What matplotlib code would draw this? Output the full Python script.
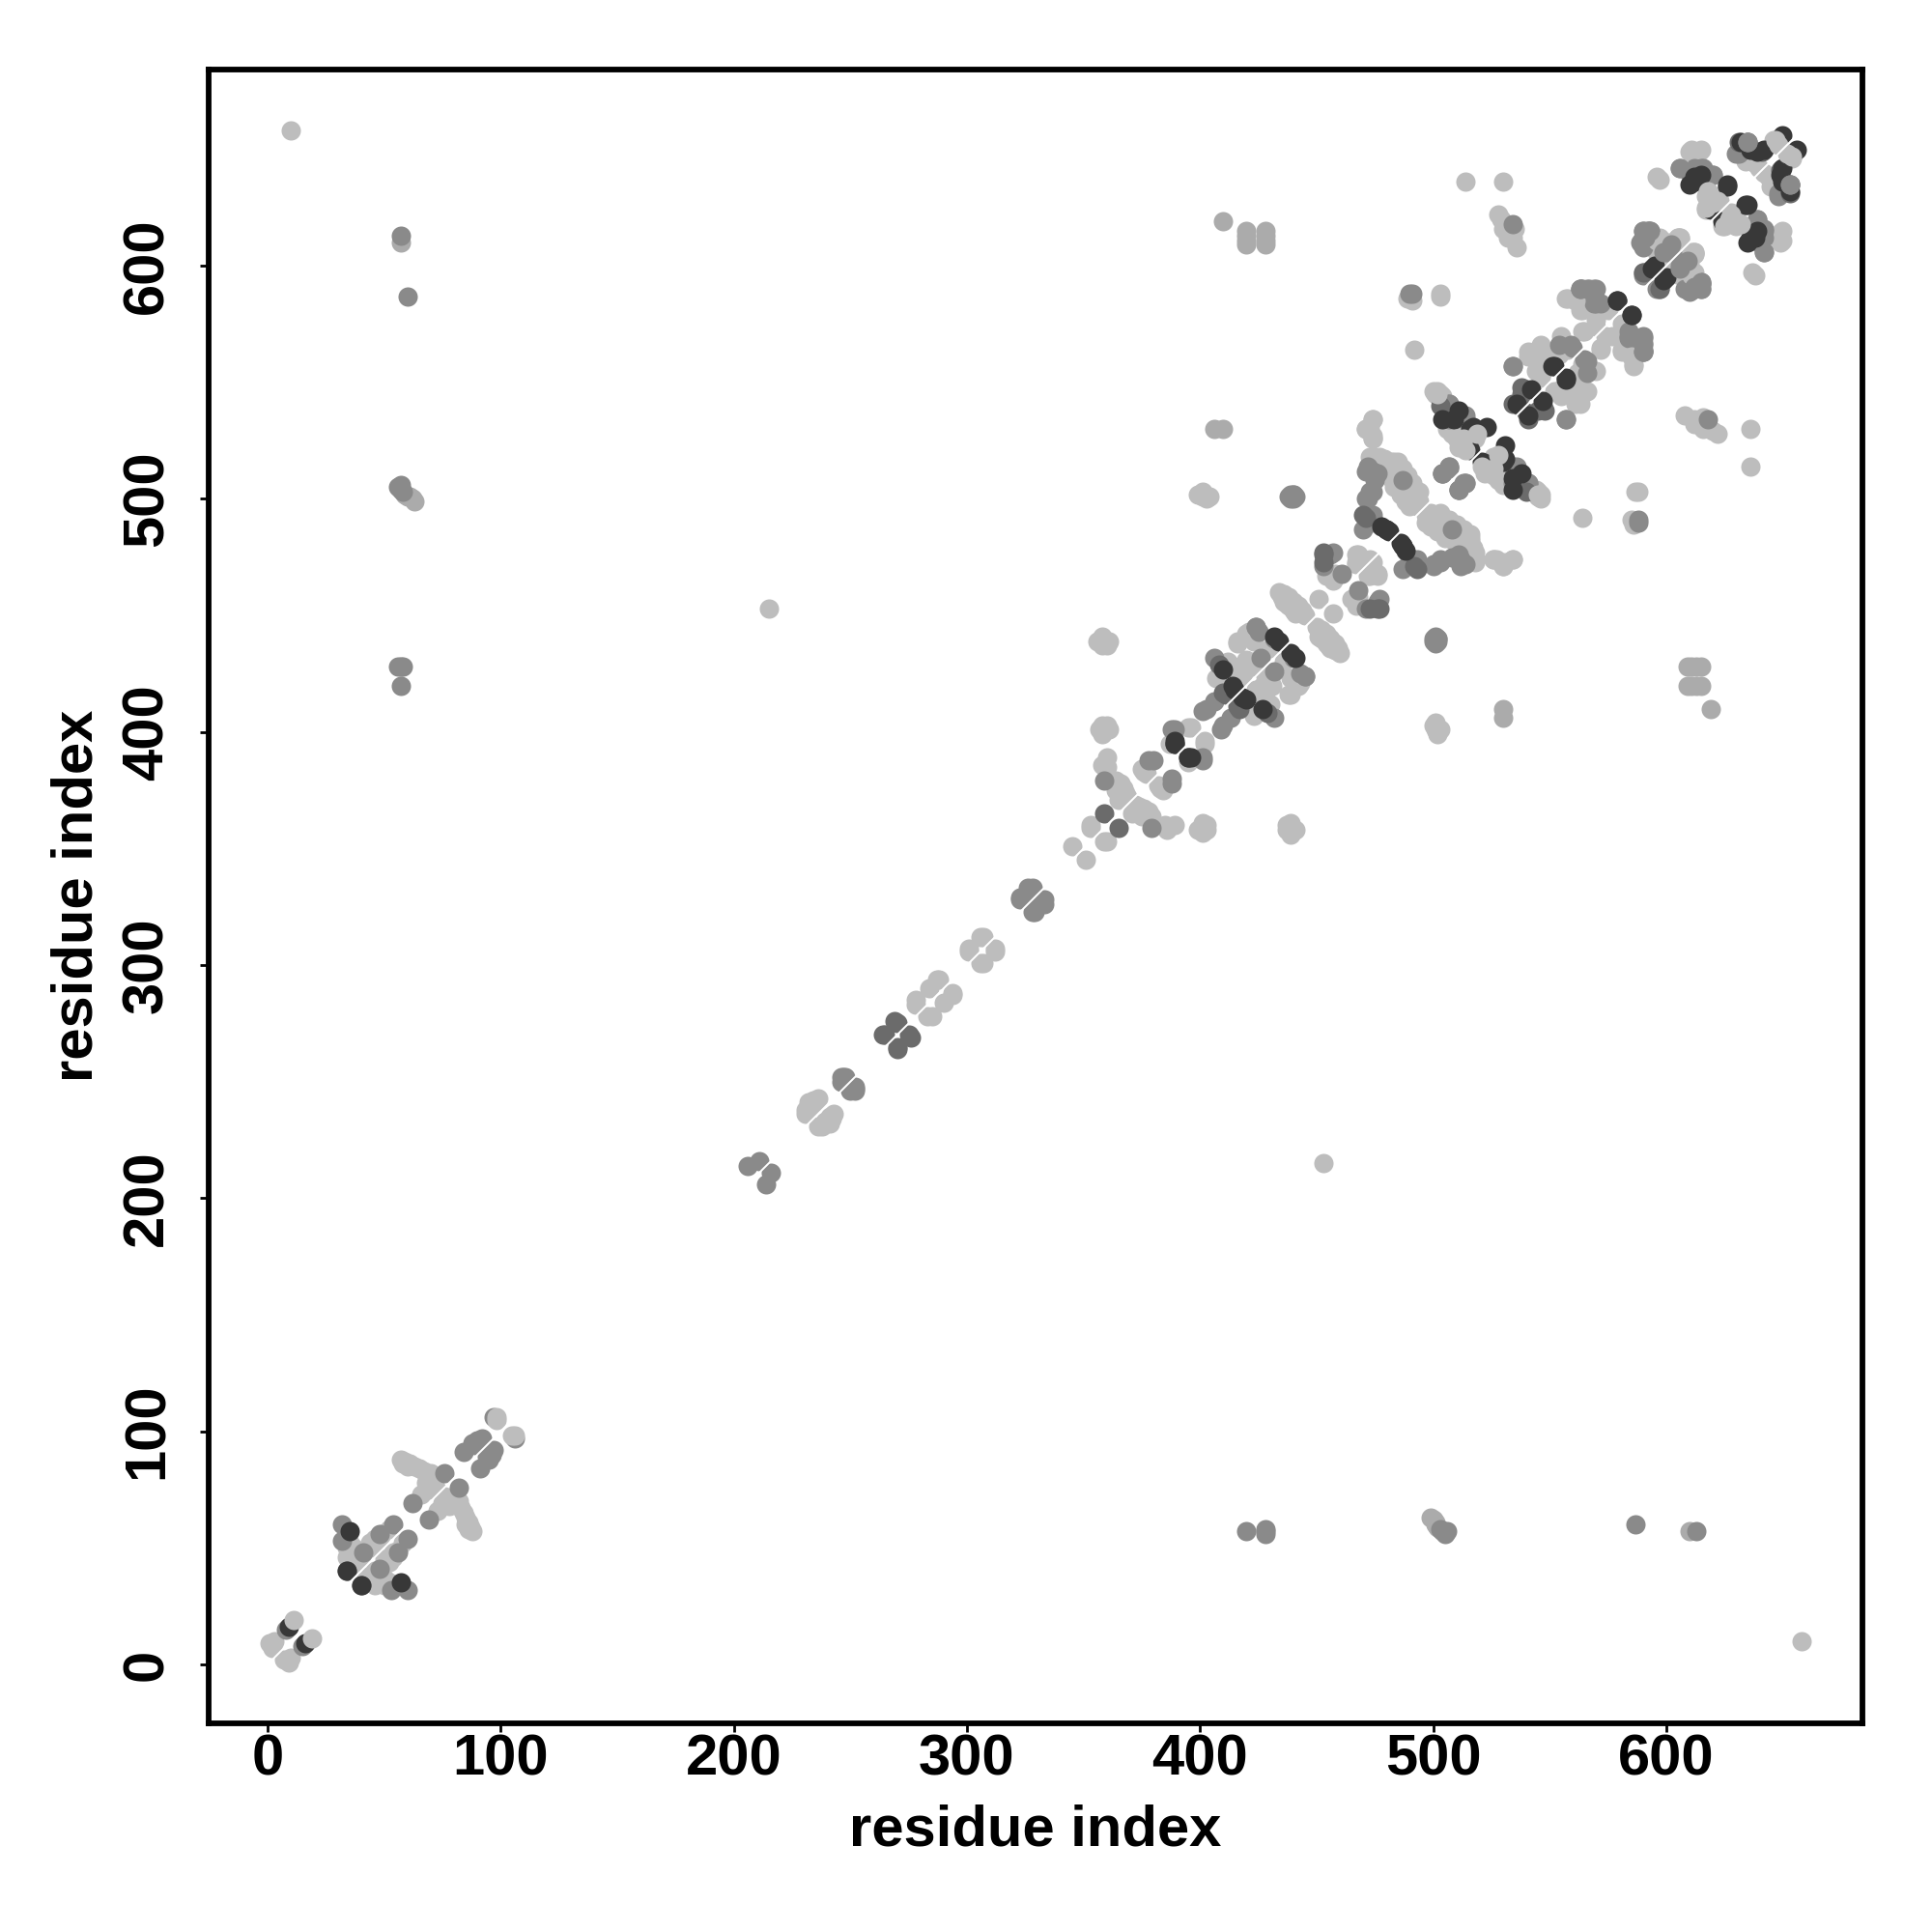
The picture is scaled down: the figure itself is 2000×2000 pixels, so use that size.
# -*- coding: utf-8 -*-
"""Residue contact map, grey level = contact strength."""

import matplotlib
matplotlib.use("Agg")
import matplotlib.pyplot as plt
import numpy as np

TICKS = [0, 100, 200, 300, 400, 500, 600]
FIRST_RESIDUE = 1
LAST_RESIDUE = 659

# contacts are (i, j) with i < j, the map is symmetric
light = [
    (1, 9), (2, 7), (3, 10), (36, 42), (38, 44), (34, 46), (34, 50), (35, 52), (36, 48), (37, 45),
    (39, 47), (35, 47), (40, 46), (44, 52), (46, 54), (49, 56), (52, 58), (37, 50), (45, 50),
    (46, 52), (48, 54), (57, 88), (59, 87), (61, 86), (63, 85), (65, 84), (67, 83), (69, 81),
    (71, 80), (66, 73), (68, 78), (70, 82), (72, 80), (69, 75), (72, 76), (58, 86), (60, 85),
    (231, 238), (232, 241), (234, 242), (236, 243), (233, 239), (235, 241), (231, 236),
    (278, 283), (284, 290), (288, 294), (278, 285), (287, 294), (301, 307), (307, 312), (301, 306),
    (306, 312), (345, 351), (353, 359), (353, 360), (10, 658), (215, 453), (358, 386),
    (357, 401), (360, 401), (358, 403), (360, 403), (361, 401), (358, 399), (356, 439), (358, 439),
    (360, 439), (358, 441), (361, 439), (360, 437), (358, 437), (364, 379), (366, 378), (364, 375),
    (366, 373), (368, 374), (365, 371), (367, 376), (369, 372), (360, 385), (360, 389), (376, 383),
    (377, 382), (375, 384), (395, 402), (396, 402), (387, 395), (407, 423), (412, 430), (423, 430),
    (416, 426), (418, 428), (420, 427), (416, 439), (420, 442), (423, 439), (430, 436), (417, 428),
    (424, 428), (416, 438), (421, 443), (414, 428), (420, 431), (418, 424), (434, 460), (436, 459),
    (438, 458), (440, 456), (442, 454), (444, 452), (445, 450), (437, 455), (440, 452), (435, 458),
    (436, 456), (438, 454), (441, 451), (451, 457), (454, 467), (467, 476), (467, 472), (458, 468),
    (457, 465), (473, 467), (476, 468), (474, 534), (471, 530), (474, 527), (473, 531),
    (474, 518), (479, 517), (485, 514), (487, 508), (492, 500), (476, 516), (482, 516), (488, 504),
    (490, 502), (493, 497), (486, 508), (489, 510), (489, 505), (491, 507), (494, 503), (491, 499),
    (494, 499), (487, 513), (485, 516), (483, 516), (486, 513), (473, 518), (477, 518), (481, 514),
    (484, 510), (483, 505), (484, 507), (482, 509), (480, 512), (486, 502), (488, 499), (490, 497),
    (485, 505), (481, 510), (479, 513), (477, 514), (402, 501), (400, 502), (404, 501), (500, 403),
    (503, 401), (502, 399), (501, 401), (502, 546), (500, 546), (504, 544), (503, 587), (492, 564),
    (491, 585), (514, 636), (530, 636), (529, 620), (535, 616), (536, 608), (532, 612), (534, 612),
    (528, 622), (530, 616), (503, 588), (489, 586), (474, 526), (474, 473), (526, 474), (530, 471),
    (534, 474), (503, 545), (501, 545), (545, 563), (548, 562), (545, 558), (546, 566), (544, 560),
    (550, 560), (548, 556), (546, 552), (549, 557), (542, 561), (541, 563), (541, 561), (544, 555),
    (547, 555), (546, 563), (555, 570), (554, 562), (558, 586), (563, 581), (564, 572), (572, 565),
    (575, 581), (558, 564), (564, 585), (557, 586), (570, 577), (564, 581), (570, 574), (561, 585),
    (563, 583), (566, 587), (568, 584), (596, 638), (610, 649), (614, 649), (617, 634), (621, 630),
    (617, 624), (620, 630), (623, 628), (612, 606), (597, 612), (596, 606), (605, 612), (597, 610),
    (611, 638), (597, 637), (611, 650), (615, 650), (618, 626), (638, 644), (634, 645), (654, 647),
    (646, 654), (644, 638), (642, 640), (610, 595), (598, 610), (600, 606), (599, 604), (606, 612),
    (597, 611), (506, 530), (508, 528), (511, 522), (513, 528), (516, 526), (512, 530), (518, 526),
]
faint = [
    (57, 610), (420, 609), (428, 609), (406, 530), (410, 530), (410, 619), (420, 613), (428, 613),
    (59, 502), (60, 501), (61, 501), (62, 500), (63, 499), (428, 611), (428, 615), (420, 611),
    (420, 615),
]
mid = [
    (8, 15), (32, 60), (32, 53), (76, 82), (62, 69), (84, 91), (88, 95), (90, 96), (92, 97), (89, 94),
    (97, 106), (246, 250), (247, 252), (246, 252), (248, 252), (206, 214), (211, 216), (323, 329),
    (328, 333), (323, 328), (326, 333), (325, 330), (359, 379), (378, 388), (380, 388), (388, 401),
    (389, 401), (401, 409), (406, 413), (406, 432), (424, 445), (432, 440), (426, 432), (403, 410),
    (425, 443), (457, 477), (453, 471), (461, 468), (456, 476), (56, 505), (57, 506), (57, 504),
    (58, 503), (57, 428), (56, 428), (58, 428), (57, 420), (60, 587), (57, 613), (440, 500),
    (439, 502), (440, 502), (438, 501), (500, 439), (502, 440), (501, 441), (491, 588), (490, 588),
    (473, 503), (471, 500), (471, 512), (474, 512), (472, 514), (476, 511), (475, 508), (507, 514),
    (504, 511), (507, 513), (511, 504), (511, 475), (508, 487), (500, 472), (503, 474), (490, 475),
    (474, 493), (487, 470), (534, 557), (534, 618), (507, 541), (514, 536), (514, 534), (534, 514),
    (541, 507), (557, 534), (560, 565), (554, 566), (566, 559), (567, 590), (563, 590), (569, 584),
    (590, 615), (593, 615), (590, 611), (603, 609), (600, 606), (590, 597), (607, 602), (615, 592),
    (608, 590), (596, 590), (612, 590), (606, 642), (612, 642), (616, 642), (620, 639), (639, 620),
    (642, 615), (642, 606), (590, 570), (584, 572), (590, 564), (587, 568), (653, 635), (648, 631),
    (630, 648), (635, 653), (534, 507), (539, 506), (610, 640),
]
dim = [
    (34, 40), (264, 270), (265, 270), (270, 275), (269, 276), (359, 365), (410, 417), (411, 416),
    (408, 429), (453, 473), (453, 477), (453, 476), (470, 493), (492, 471), (631, 653), (641, 649),
    (503, 540), (536, 541), (590, 597), (540, 547), (538, 545), (534, 541), (537, 540), (538, 548),
]
dark = [
    (9, 16), (35, 57), (34, 40), (389, 396), (389, 395), (395, 389), (414, 420), (415, 418),
    (410, 427), (434, 439), (432, 441), (478, 488), (480, 487), (486, 481), (487, 480),
    (511, 538), (504, 534), (517, 531), (523, 531), (515, 523), (509, 534), (516, 521), (516, 530),
    (542, 547), (536, 541), (551, 557), (557, 552), (579, 585), (585, 579), (594, 599), (595, 600),
    (612, 636), (610, 635), (615, 639), (626, 634), (619, 625), (619, 624), (626, 635), (612, 638),
    (636, 650), (642, 650), (650, 656), (639, 649), (632, 653),
]
top_light = [
    (11, 19), (98, 106), (98, 105), (502, 545), (510, 526), (514, 521), (519, 528), (513, 526),
    (625, 617), (605, 612), (610, 601), (596, 611), (611, 606), (647, 654), (648, 652),
    (622, 628), (618, 632), (617, 630), (620, 627), (585, 561),
]
top_mid = [
    (41, 48), (48, 56), (54, 60), (424, 445), (507, 514), (504, 511), (635, 653), (653, 635),
    (599, 606), (602, 609), (590, 615), (593, 615), (589, 610), (566, 590), (563, 590), (584, 570),
    (590, 569), (590, 563), (612, 591), (615, 592), (612, 590),
]

GROUPS = [
    (light, 0.74),
    (faint, 0.67),
    (mid, 0.54),
    (dim, 0.42),
    (dark, 0.22),
    (top_light, 0.74),
    (top_mid, 0.54),
]

plt.rcParams["font.family"] = ["Liberation Sans", "DejaVu Sans"]
plt.rcParams["font.weight"] = "bold"

fig = plt.figure(figsize=(10, 10), dpi=200)
ax = fig.add_axes([216 / 2000, (2000 - 1784) / 2000, (1928 - 216) / 2000, (1784 - 72) / 2000])

for contacts, level in GROUPS:
    pairs = np.array(contacts, dtype=float)
    x = np.concatenate([pairs[:, 0], pairs[:, 1]])
    y = np.concatenate([pairs[:, 1], pairs[:, 0]])
    ax.scatter(x, y, s=52, color=str(level), linewidths=0, zorder=2)

ax.plot([FIRST_RESIDUE, LAST_RESIDUE], [FIRST_RESIDUE, LAST_RESIDUE], color="white", lw=0.7, zorder=3)

ax.set_xlim(-25.3, 684.2)
ax.set_ylim(-25.3, 684.2)
ax.set_xticks(TICKS)
ax.set_yticks(TICKS)
ax.tick_params(axis="both", length=3.2, width=1.0, labelsize=21.5)
ax.tick_params(axis="x", pad=0.5)
ax.tick_params(axis="y", pad=9.6, labelrotation=90)
for label in ax.get_yticklabels():
    label.set_va("center")
for spine in ax.spines.values():
    spine.set_linewidth(2.1)

fig.text(1072 / 2000, 1 - 1895 / 2000, "residue index", fontsize=21.5, fontweight="bold", ha="center", va="center")
fig.text(80 / 2000, 1 - 927 / 2000, "residue index", fontsize=21.5, fontweight="bold", ha="center", va="center", rotation=90)

fig.savefig("out.png", dpi=200)
plt.close(fig)
